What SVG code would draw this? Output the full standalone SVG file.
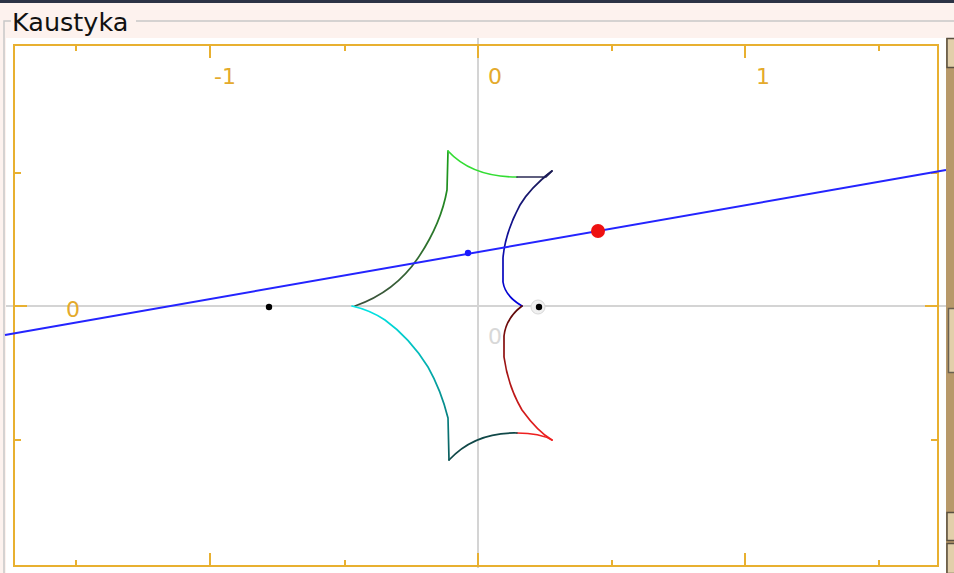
<svg xmlns="http://www.w3.org/2000/svg" width="954" height="573" viewBox="0 0 954 573">
<style>
.lbl{font-family:"DejaVu Sans","Liberation Sans",sans-serif;font-size:22px;fill:#e4aa2c}
.frame{fill:none;stroke:#e8b030;stroke-width:2}
.tick{stroke:#e8b030;stroke-width:2}
.axis{stroke:#d4d4d4;stroke-width:2}
.curve{fill:none;stroke-width:1.7;stroke-linejoin:round;stroke-linecap:round}
</style>
<defs>
<linearGradient id="gBlue" gradientUnits="userSpaceOnUse" x1="0" y1="171" x2="0" y2="306"><stop offset="0" stop-color="#1c1c55"/><stop offset="1" stop-color="#0000e0"/></linearGradient>
<linearGradient id="gRed" gradientUnits="userSpaceOnUse" x1="0" y1="306" x2="0" y2="440"><stop offset="0" stop-color="#5a0808"/><stop offset="1" stop-color="#f02020"/></linearGradient>
<linearGradient id="gCyan" gradientUnits="userSpaceOnUse" x1="0" y1="460" x2="0" y2="306"><stop offset="0" stop-color="#0a5a5a"/><stop offset="1" stop-color="#00e6e6"/></linearGradient>
<linearGradient id="gGreen" gradientUnits="userSpaceOnUse" x1="0" y1="306" x2="0" y2="151"><stop offset="0" stop-color="#3c523c"/><stop offset="1" stop-color="#18a018"/></linearGradient>
</defs>
<rect x="0" y="0" width="954" height="573" fill="#fdf2ee"/>
<rect x="0" y="0" width="954" height="3" fill="#2c3345"/>
<g id="groupbox">
<path d="M4,573 V21 H11 M136,21 H954" fill="none" stroke="#c8c8c8" stroke-width="1.5"/>
<text x="12" y="31" font-family="DejaVu Sans,Liberation Sans,sans-serif" font-size="25.5" fill="#111">Kaustyka</text>
</g>
<rect x="6" y="38" width="940" height="535" fill="#ffffff"/>
<g id="axes">
<line class="axis" x1="478" y1="38" x2="478" y2="568"/>
<line class="axis" x1="6" y1="306" x2="946" y2="306"/>
</g>
<g id="frame">
<rect class="frame" x="14" y="45" width="924" height="521"/>
<line class="tick" x1="76" y1="45" x2="76" y2="51"/>
<line class="tick" x1="210" y1="45" x2="210" y2="58"/>
<line class="tick" x1="345" y1="45" x2="345" y2="51"/>
<line class="tick" x1="478" y1="45" x2="478" y2="58"/>
<line class="tick" x1="612" y1="45" x2="612" y2="51"/>
<line class="tick" x1="745" y1="45" x2="745" y2="58"/>
<line class="tick" x1="879" y1="45" x2="879" y2="51"/>
<line class="tick" x1="76" y1="566" x2="76" y2="560"/>
<line class="tick" x1="210" y1="566" x2="210" y2="553"/>
<line class="tick" x1="345" y1="566" x2="345" y2="560"/>
<line class="tick" x1="478" y1="566" x2="478" y2="553"/>
<line class="tick" x1="612" y1="566" x2="612" y2="560"/>
<line class="tick" x1="745" y1="566" x2="745" y2="553"/>
<line class="tick" x1="879" y1="566" x2="879" y2="560"/>
<line class="tick" x1="14" y1="173" x2="21" y2="173"/>
<line class="tick" x1="14" y1="306" x2="27" y2="306"/>
<line class="tick" x1="14" y1="440" x2="21" y2="440"/>
<line class="tick" x1="938" y1="173" x2="931" y2="173"/>
<line class="tick" x1="938" y1="306" x2="925" y2="306"/>
<line class="tick" x1="938" y1="440" x2="931" y2="440"/>
<text class="lbl" x="214" y="84">-1</text>
<text class="lbl" x="488" y="84">0</text>
<text class="lbl" x="756" y="84">1</text>
<text class="lbl" x="66" y="317">0</text>
<text x="488" y="344" font-family="DejaVu Sans,Liberation Sans,sans-serif" font-size="22" fill="#d8d8d8">0</text>
</g>
<g id="caustic">
<path class="curve" stroke="url(#gGreen)" d="M355,306 Q395,292 418,258 Q441,224 447,190 L448,151"/>
<path class="curve" stroke="#33dd33" d="M448,151 Q472,177 517,177"/>
<path class="curve" stroke="#2b2b55" d="M517,177 L546,177 L552,171 L543,178"/>
<path class="curve" stroke="url(#gBlue)" d="M552,171 Q530,188 520,205 Q505,233 503,258 L503,282 Q505,296 522,306"/>
<path class="curve" stroke="url(#gRed)" d="M522,306 Q506,318 504,336 L504,357 Q508,386 522,410 Q538,432 552,440"/>
<path class="curve" stroke="#ee2020" d="M552,440 Q540,433 517,433"/>
<path class="curve" stroke="#104848" d="M517,433 Q475,432 449,460"/>
<path class="curve" stroke="url(#gCyan)" d="M449,460 L448,418 Q441,390 428,367 Q410,338 385,320 Q370,310 352,306"/>
</g>
<g id="ray">
<line x1="5" y1="335" x2="946" y2="170" stroke="#2424ff" stroke-width="2"/>
</g>
<g id="points">
<circle cx="598" cy="231" r="7" fill="#ee1111"/>
<circle cx="468" cy="253" r="3.2" fill="#1a1aff"/>
<circle cx="269" cy="307" r="3.2" fill="#000"/>
<circle cx="538" cy="307" r="7" fill="#f0f0f0" stroke="#d8d8d8" stroke-width="1"/>
<circle cx="539" cy="307" r="3.2" fill="#000"/>
</g>
<g id="scrollbar">
<rect x="946" y="38" width="8" height="535" fill="#b8996a"/>
<rect x="947" y="38.5" width="8" height="29" fill="#e2cfaa" stroke="#5a5040" stroke-width="1.5"/>
<rect x="948.5" y="308.5" width="7" height="64" fill="#e2cfaa" stroke="#6a6050" stroke-width="1.5"/>
<rect x="947" y="512.5" width="8" height="28" fill="#e2cfaa" stroke="#5a5040" stroke-width="1.5"/>
<rect x="947" y="543.5" width="8" height="30" fill="#e2cfaa" stroke="#5a5040" stroke-width="1.5"/>
</g>
</svg>
